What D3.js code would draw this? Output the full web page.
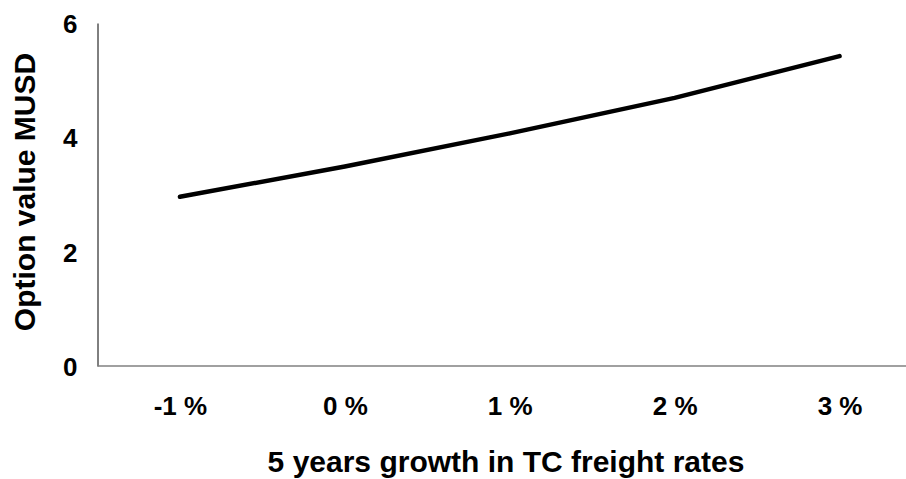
<!DOCTYPE html>
<html>
<head>
<meta charset="utf-8">
<script src="https://cdn.jsdelivr.net/npm/d3@7"></script>
<style>
  html, body { margin: 0; padding: 0; background: #fff; }
  svg { display: block; }
  text { font-family: "Liberation Sans", Arial, sans-serif; font-weight: bold; fill: #000; }
</style>
</head>
<body>
<svg id="chart" width="906" height="479"></svg>
<script>
const categories = ["-1 %", "0 %", "1 %", "2 %", "3 %"];
const optionValues = [2.96, 3.49, 4.07, 4.69, 5.42];
const yTicks = [0, 2, 4, 6];
const xTitle = "5 years growth in TC freight rates";
const yTitle = "Option value MUSD";

(function () {
const svg = d3.select("#chart");
const mLeft = 97.5, mRight = 922, mTop = 23, mBottom = 366;

const x = d3.scalePoint().domain(categories).range([mLeft, mRight]).padding(0.5);
const y = d3.scaleLinear().domain([0, 6]).range([mBottom, mTop]);

// y axis
const yAxis = svg.append("g").attr("transform", `translate(${mLeft},0)`)
  .call(d3.axisLeft(y).tickValues(yTicks).tickSize(0).tickPadding(20).tickFormat(d3.format("d")));
yAxis.select(".domain").attr("stroke", "#000").attr("stroke-width", 1);
yAxis.selectAll("text").style("font-size", "26px").attr("dy", "0.36em");

// x axis
const xAxis = svg.append("g").attr("transform", `translate(0,${mBottom})`)
  .call(d3.axisBottom(x).tickSize(0).tickPadding(31));
xAxis.select(".domain").attr("stroke", "#808080").attr("stroke-width", 1.5)
  .attr("d", `M${mLeft},0H906`);
xAxis.selectAll("text").style("font-size", "26px");

// line
const line = d3.line()
  .x((d, i) => x(categories[i]))
  .y(d => y(d));
svg.append("path").datum(optionValues)
  .attr("fill", "none").attr("stroke", "#000").attr("stroke-width", 4.5)
  .attr("stroke-linecap", "round").attr("stroke-linejoin", "round")
  .attr("d", line);

// titles
svg.append("text").attr("x", 506).attr("y", 472).attr("text-anchor", "middle")
  .style("font-size", "30px").text(xTitle);
svg.append("text").attr("transform", "translate(35,192) rotate(-90)")
  .attr("text-anchor", "middle").style("font-size", "30px").text(yTitle);
})();
</script>
</body>
</html>
